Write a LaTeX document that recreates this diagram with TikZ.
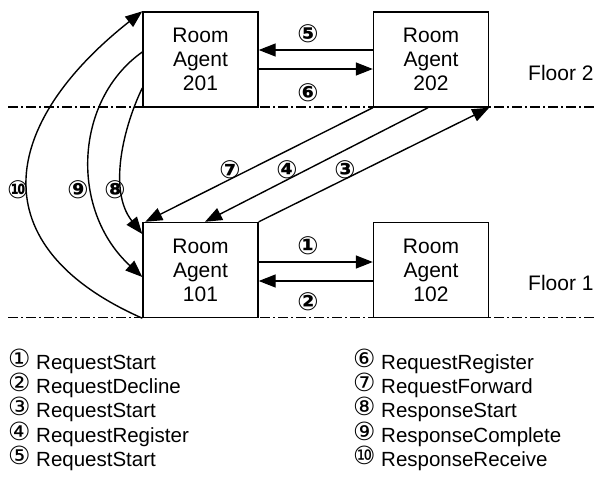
\documentclass[tikz,border=0pt]{standalone}
\usepackage{fontspec}
\setmainfont{Liberation Sans}
\newfontfamily\cfont{DejaVu Sans}
\usetikzlibrary{arrows.meta}
\newcommand{\cnum}[1]{\makebox[28pt][l]{\raisebox{1.3pt}{\cfont\fontsize{25}{24}\selectfont #1}}}
\begin{document}
\begin{tikzpicture}[x=1pt,y=-1pt,
  agent/.style={draw,line width=1.4pt,fill=white,minimum width=115pt,minimum height=95pt,inner sep=0pt,align=center,font=\fontsize{21}{24}\selectfont},
  msg/.style={line width=1.4pt,-{Triangle[length=17pt,width=13pt]}},
  num/.style={font=\cfont\bfseries\fontsize{25}{25}\selectfont,inner sep=0pt},
  floorline/.style={line width=1.4pt,dash pattern=on 10pt off 3pt on 2pt off 3pt},
  lbl/.style={font=\fontsize{21}{24}\selectfont,inner sep=0pt,anchor=base west},
  leg/.style={font=\fontsize{20.5}{24}\selectfont,inner sep=0pt,anchor=base west}]
\useasboundingbox (0,0) rectangle (596,479);
% floor lines
\coordinate (f2a) at (8,107);
\coordinate (f2b) at (596,107);
\coordinate (f1a) at (8,317.5);
\coordinate (f1b) at (596,317.5);
\draw[floorline] (f2a) -- (f2b);
\draw[floorline] (f1a) -- (f1b);
% agents
\node[agent] (r201) at (200.5,59.5) {Room\\Agent\\201};
\node[agent] (r202) at (431,59.5) {Room\\Agent\\202};
\node[agent] (r101) at (200.5,270) {Room\\Agent\\101};
\node[agent] (r102) at (431,270) {Room\\Agent\\102};
% floor labels
\node[lbl] (fl2) at (528,80) {Floor 2};
\node[lbl] (fl1) at (528,290) {Floor 1};
% horizontal messages
\draw[msg] ([yshift=9.5pt]r202.west) -- ([yshift=9.5pt]r201.east);
\draw[msg] ([yshift=-9.5pt]r201.east) -- ([yshift=-9.5pt]r202.west);
\draw[msg] ([yshift=8pt]r101.east) -- ([yshift=8pt]r102.west);
\draw[msg] ([yshift=-11pt]r102.west) -- ([yshift=-11pt]r101.east);
% diagonal messages
\draw[msg] (r202.south west) -- ([xshift=3pt]r101.north west);
\draw[msg] ([xshift=-3pt]r202.south) -- ([xshift=4.5pt]r101.north);
\draw[msg] (r101.north east) -- (r202.south east);
% curved messages
\draw[msg] ([yshift=-28.5pt]r201.west) .. controls +(-18,37) and +(-35,-44) .. ([yshift=36pt]r101.west);
\draw[msg] ([yshift=7.5pt]r201.west) .. controls +(-68,48) and +(-73,-67) .. ([yshift=-7pt]r101.west);
\draw[msg] (r101.south west) .. controls +(-163,-72) and +(-143,113) .. (r201.north west);
% labels
\node[num] (n5) at (308,34) {⑤};
\node[num] (n6) at (308,92.5) {⑥};
\node[num] (n1) at (308,246) {①};
\node[num] (n2) at (308,302) {②};
\node[num] (n7) at (230,170) {⑦};
\node[num] (n4) at (287,170) {④};
\node[num] (n3) at (345,170) {③};
\node[num] (n8) at (115,190) {⑧};
\node[num] (n9) at (78,190) {⑨};
\node[num] (n10) at (18,190) {⑩};
% legend
\node[leg] (k1) at (8,369) {\cnum{①}RequestStart};
\node[leg] (k2) at (8,393) {\cnum{②}RequestDecline};
\node[leg] (k3) at (8,417) {\cnum{③}RequestStart};
\node[leg] (k4) at (8,442) {\cnum{④}RequestRegister};
\node[leg] (k5) at (8,466) {\cnum{⑤}RequestStart};
\node[leg] (k6) at (353,369) {\cnum{⑥}RequestRegister};
\node[leg] (k7) at (353,393) {\cnum{⑦}RequestForward};
\node[leg] (k8) at (353,417) {\cnum{⑧}ResponseStart};
\node[leg] (k9) at (353,442) {\cnum{⑨}ResponseComplete};
\node[leg] (k10) at (353,466) {\cnum{⑩}ResponseReceive};
\end{tikzpicture}
\end{document}
